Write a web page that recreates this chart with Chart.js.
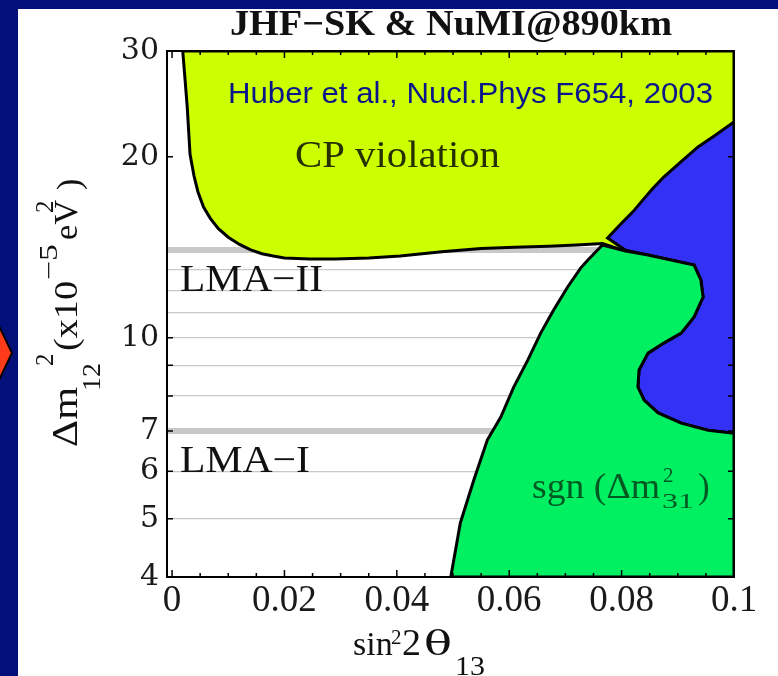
<!DOCTYPE html>
<html>
<head>
<meta charset="utf-8">
<script src="https://cdn.jsdelivr.net/npm/chart.js@4.4.1/dist/chart.umd.min.js"></script>
<style>
  html, body { margin: 0; padding: 0; background: #04107a; }
  canvas { display: block; }
</style>
</head>
<body>
<canvas id="plot" width="778" height="676"></canvas>
<script>
// axis ticks
const xTicks = [0, 0.02, 0.04, 0.06, 0.08, 0.1];
const yTickLabels = [4, 5, 6, 7, 10, 20, 30];
const yGridLines = [5, 6, 7, 8, 9, 10, 11, 12, 13, 14];
const yBands = [7, 14];
const yFrameTicks = [4, 5, 6, 7, 8, 9, 10, 20, 30];

// CP violation region (yellow)
const cpX = [0.0019, 0.0023, 0.0027, 0.0032, 0.0039, 0.0046, 0.0056, 0.0068, 0.0082, 0.0100,
  0.0120, 0.0140, 0.0160, 0.0180, 0.0200, 0.0245, 0.0290, 0.0350, 0.0406, 0.0480,
  0.0550, 0.0610, 0.0670, 0.0720, 0.0766, 0.0807, 0.0847, 0.1, 0.1, 0.0019];
const cpY = [30, 27, 24.2, 20.2, 18.6, 17.5, 16.5, 15.8, 15.2, 14.7,
  14.3, 14.0, 13.8, 13.68, 13.58, 13.52, 13.52, 13.58, 13.68, 13.9,
  14.08, 14.15, 14.2, 14.27, 14.35, 13.94, 13.73, 13.0, 30, 30];

// blue region
const blueX = [0.1, 0.0966, 0.0936, 0.0905, 0.0875, 0.0855, 0.0838, 0.0820, 0.0802, 0.0788,
  0.0775, 0.0807, 0.0847, 0.0929, 0.0941, 0.0945, 0.0929, 0.0906, 0.0875, 0.0847,
  0.0831, 0.0829, 0.0840, 0.0865, 0.0906, 0.0954, 0.1, 0.1];
const blueY = [22.86, 21.7, 20.77, 19.6, 18.51, 17.7, 16.96, 16.2, 15.58, 15.1,
  14.66, 13.98, 13.73, 13.21, 12.48, 11.69, 10.83, 10.18, 9.80, 9.43,
  8.84, 8.28, 7.88, 7.50, 7.21, 7.02, 6.94, 22.86];

// sgn(dm31) region (green)
const sgnX = [0.0496, 0.0513, 0.0537, 0.0561, 0.0585, 0.0608, 0.0633, 0.0656, 0.0679, 0.0704,
  0.0727, 0.0740, 0.0766, 0.0807, 0.0847, 0.0929, 0.0941, 0.0945, 0.0929, 0.0906,
  0.0875, 0.0847, 0.0831, 0.0829, 0.0840, 0.0865, 0.0906, 0.0954, 0.1, 0.1, 0.0496];
const sgnY = [4, 4.92, 5.80, 6.76, 7.38, 8.28, 9.18, 10.18, 11.12, 12.15,
  13.06, 13.47, 14.27, 13.94, 13.73, 13.21, 12.48, 11.69, 10.83, 10.18,
  9.80, 9.43, 8.84, 8.28, 7.88, 7.50, 7.21, 7.02, 6.94, 4, 4];

const toPts = (xs, ys) => xs.map((v, i) => ({ x: v, y: ys[i] }));

// text drawn squeezed/stretched to a given width
function put(g, str, x, y, font, width, color) {
  g.save();
  g.font = font;
  g.fillStyle = color || '#111';
  g.textAlign = 'left';
  g.textBaseline = 'alphabetic';
  g.translate(x, y);
  if (width) g.scale(width / g.measureText(str).width, 1);
  g.fillText(str, 0, 0);
  g.restore();
}

const serif = '"Liberation Serif"';

const slideBg = {
  id: 'slideBg',
  beforeDraw(c) {
    const g = c.ctx;
    g.save();
    g.fillStyle = '#04107a';
    g.fillRect(0, 0, c.width, c.height);
    g.fillStyle = '#ffffff';
    g.fillRect(18, 9, c.width - 18, c.height - 9);
    // red marker sticking out at the slide edge
    g.beginPath();
    g.moveTo(12, 353);
    g.lineTo(0, 378);
    g.lineTo(-12, 353);
    g.lineTo(0, 328);
    g.closePath();
    g.fillStyle = '#ff3b1a';
    g.fill();
    g.lineWidth = 2;
    g.strokeStyle = '#000';
    g.stroke();
    g.restore();
  }
};

const frame = {
  id: 'frame',
  afterDatasetsDraw(c) {
    const g = c.ctx;
    const a = c.chartArea;
    const x = c.scales.x;
    const y = c.scales.y;
    g.save();
    g.strokeStyle = '#000';
    g.lineWidth = 2;
    g.strokeRect(a.left, a.top, a.right - a.left, a.bottom - a.top);
    g.lineWidth = 1.5;
    g.beginPath();
    for (let i = 0; i <= 20; i++) {
      const px = x.getPixelForValue(i * 0.005);
      const len = i % 4 === 0 ? 7 : 4;
      g.moveTo(px, a.bottom);
      g.lineTo(px, a.bottom - len);
      g.moveTo(px, a.top);
      g.lineTo(px, a.top + len);
    }
    yFrameTicks.forEach((v) => {
      const py = y.getPixelForValue(v);
      g.moveTo(a.left, py);
      g.lineTo(a.left + 6, py);
      g.moveTo(a.right, py);
      g.lineTo(a.right - 6, py);
    });
    g.stroke();
    g.restore();
  }
};

const labels = {
  id: 'labels',
  afterDraw(c) {
    const g = c.ctx;
    put(g, 'JHF\u2212SK & NuMI@890km', 230, 35, 'bold 35px ' + serif, 442, '#111');
    put(g, 'Huber et al., Nucl.Phys F654, 2003', 228, 103, '29px "Liberation Sans"', 485, '#0b168a');
    put(g, 'CP violation', 295, 167, '37px ' + serif, 205, '#263000');
    put(g, 'LMA\u2212II', 180, 291, '38px ' + serif, 143, '#111');
    put(g, 'LMA\u2212I', 180, 472, '38px ' + serif, 130, '#111');
    put(g, 'sgn (\u0394m', 532, 498, '35px ' + serif, 128, '#005a22');
    put(g, '2', 663, 482, '21px ' + serif, null, '#005a22');
    put(g, '31', 662, 508, '21px ' + serif, 32, '#005a22');
    put(g, ')', 698, 498, '35px ' + serif, null, '#005a22');

    // x axis title
    put(g, 'sin', 353, 655, '34px ' + serif, null, '#111');
    put(g, '2', 391, 644, '21px ' + serif, null, '#111');
    put(g, '2', 402, 655, '38px ' + serif, null, '#111');
    put(g, '\u03b8', 424, 655, '33px "DejaVu Serif"', 28, '#111');
    put(g, '13', 455, 675, '27px ' + serif, 30, '#111');

    // y axis title, rotated: (u, v) -> page (v, -u)
    g.save();
    g.rotate(-Math.PI / 2);
    put(g, '\u0394m', -447, 77, '35px ' + serif, 60, '#111');
    put(g, '2', -366, 53, '25px ' + serif, null, '#111');
    put(g, '12', -391, 100, '25px ' + serif, 28, '#111');
    put(g, '(x10', -351, 77, '34px ' + serif, 70, '#111');
    put(g, '\u22125', -280, 57, '25px ' + serif, 36, '#111');
    put(g, 'eV', -240, 77, '34px ' + serif, 40, '#111');
    put(g, '2', -213, 53, '25px ' + serif, null, '#111');
    put(g, ')', -190, 80, '34px ' + serif, null, '#111');
    g.restore();
  }
};

const region = (label, xs, ys, color, order) => ({
  label: label,
  data: toPts(xs, ys),
  showLine: true,
  fill: 'shape',
  backgroundColor: color,
  borderColor: '#000',
  borderWidth: 3,
  tension: 0,
  pointRadius: 0,
  order: order,
});

new Chart(document.getElementById('plot'), {
  type: 'scatter',
  data: {
    datasets: [
      region('sgn', sgnX, sgnY, '#00f062', 1),
      region('blue', blueX, blueY, '#3431f7', 2),
      region('CP violation', cpX, cpY, '#ccff00', 3),
    ],
  },
  options: {
    responsive: false,
    animation: false,
    devicePixelRatio: 1,
    events: [],
    layout: { padding: { top: 51, right: 44, left: 0, bottom: 0 } },
    plugins: {
      legend: { display: false },
      tooltip: { enabled: false },
    },
    scales: {
      x: {
        type: 'linear',
        min: -0.0009,
        max: 0.1,
        afterBuildTicks: (s) => { s.ticks = xTicks.map((v) => ({ value: v })); },
        afterFit: (s) => { s.height = 99; },
        grid: { display: false, drawTicks: false },
        border: { display: false },
        ticks: {
          font: { family: 'Liberation Serif', size: 37 },
          color: '#1a1a1a',
          padding: 2,
          maxRotation: 0,
          autoSkip: false,
          callback: (v) => String(v),
        },
      },
      y: {
        type: 'logarithmic',
        min: 4,
        max: 30,
        afterBuildTicks: (s) => {
          const vals = [...new Set([...yTickLabels, ...yGridLines])].sort((a, b) => a - b);
          s.ticks = vals.map((v) => ({ value: v }));
        },
        afterFit: (s) => { s.width = 167; },
        grid: {
          drawTicks: false,
          color: (ctx) => yGridLines.includes(ctx.tick.value) ? '#c8c8c8' : 'rgba(0,0,0,0)',
          lineWidth: (ctx) => yBands.includes(ctx.tick.value) ? 6 : 1.2,
        },
        border: { display: false },
        ticks: {
          font: { family: 'DejaVu Serif', size: 30 },
          color: '#1a1a1a',
          padding: 8,
          autoSkip: false,
          callback: (v) => yTickLabels.includes(v) ? String(v) : '',
        },
      },
    },
  },
  plugins: [slideBg, frame, labels],
});
</script>
</body>
</html>
